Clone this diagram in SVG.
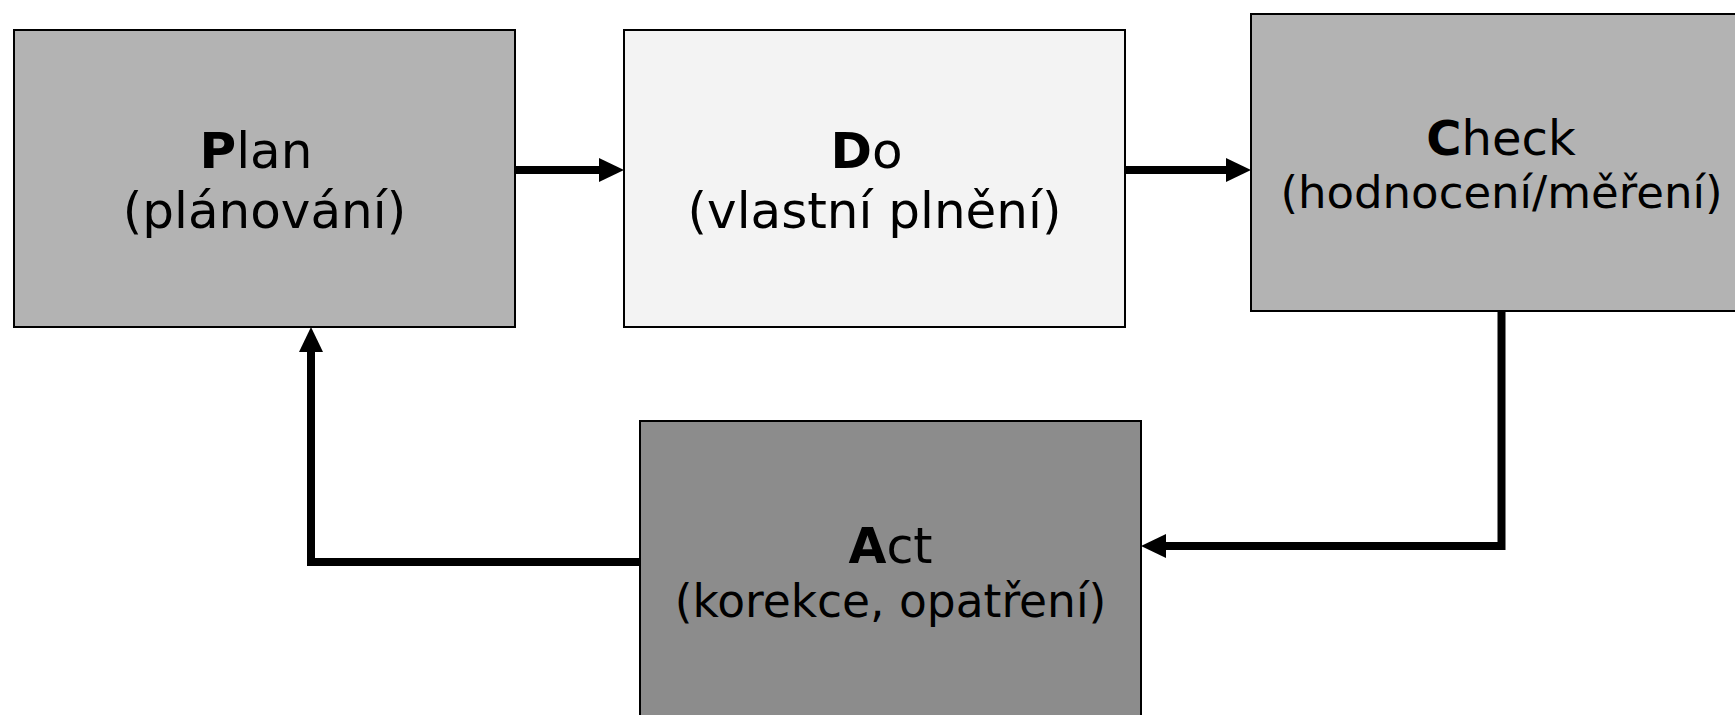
<svg xmlns="http://www.w3.org/2000/svg" width="1735" height="715" viewBox="0 0 1735 715">
  <style>
    .box { stroke: #000; stroke-width: 2; }
    .lbl { font-family: "DejaVu Sans", Verdana, sans-serif; fill: #000; text-anchor: middle; }
    .b { font-weight: bold; }
    .conn { fill: none; stroke: #000; stroke-width: 8; stroke-linejoin: miter; stroke-linecap: butt; }
  </style>
  <defs>
    <marker id="arrow" viewBox="0 0 25 24" refX="0" refY="12" markerWidth="25" markerHeight="24" markerUnits="userSpaceOnUse" orient="auto">
      <path d="M0,0 L25,12 L0,24 Z" fill="#000"/>
    </marker>
  </defs>
  <rect width="1735" height="715" fill="#fff"/>

  <g id="connectors">
    <path class="conn" d="M515,170 H599" marker-end="url(#arrow)"/>
    <path class="conn" d="M1125,170 H1226" marker-end="url(#arrow)"/>
    <path class="conn" d="M1501.5,311 V546 H1166" marker-end="url(#arrow)"/>
    <path class="conn" d="M640,562 H311 V352" marker-end="url(#arrow)"/>
  </g>

  <g id="plan">
    <rect class="box" x="14" y="30" width="501" height="297" fill="#b3b3b3"/>
    <text class="lbl" x="256" y="168" font-size="50"><tspan class="b">P</tspan>lan</text>
    <text class="lbl" x="264.5" y="228" font-size="50">(plánování)</text>
  </g>

  <g id="do">
    <rect class="box" x="624" y="30" width="501" height="297" fill="#f3f3f3"/>
    <text class="lbl" x="866.5" y="168" font-size="50"><tspan class="b">D</tspan>o</text>
    <text class="lbl" x="874.5" y="228" font-size="50">(vlastní plnění)</text>
  </g>

  <g id="check">
    <rect class="box" x="1251" y="14" width="501" height="297" fill="#b3b3b3"/>
    <text class="lbl" x="1501" y="155" font-size="48"><tspan class="b">C</tspan>heck</text>
    <text class="lbl" x="1501.5" y="208" font-size="45">(hodnocení/měření)</text>
  </g>

  <g id="act">
    <rect class="box" x="640" y="421" width="501" height="297" fill="#8c8c8c"/>
    <text class="lbl" x="890.5" y="563" font-size="49"><tspan class="b">A</tspan>ct</text>
    <text class="lbl" x="890.5" y="617" font-size="45.5">(korekce, opatření)</text>
  </g>
</svg>
